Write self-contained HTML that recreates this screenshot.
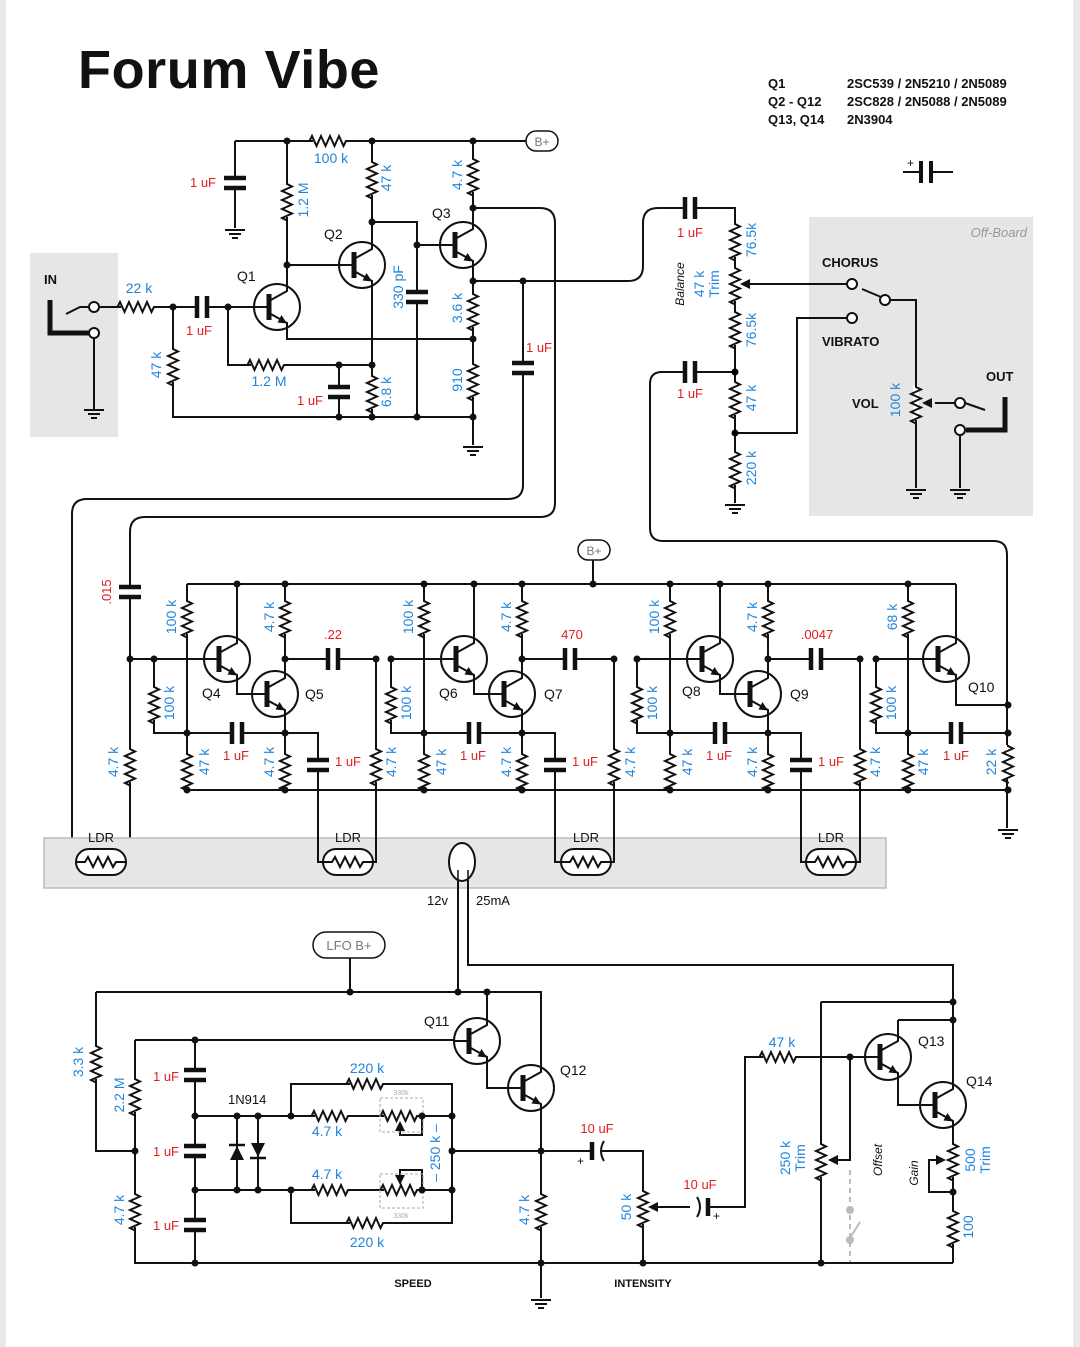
<!DOCTYPE html>
<html><head><meta charset="utf-8"><style>
html,body{margin:0;padding:0;background:#fff}
svg{display:block}
text{font-family:"Liberation Sans",Arial,sans-serif}
.b{fill:#1f84dc;font-size:14px}
.r{fill:#e01e1e;font-size:13px}
.k{fill:#111;font-size:14px}
.w{fill:none;stroke:#111;stroke-width:2}
</style></head><body>
<svg width="1080" height="1347" viewBox="0 0 1080 1347" xmlns="http://www.w3.org/2000/svg">
<defs>
<symbol id="rv" overflow="visible"><rect x="-3" y="-17" width="6" height="34" fill="#fff"/><path d="M0,-17 v1 l5,2.5 l-10,4.5 l10,4.5 l-10,4.5 l10,4.5 l-10,4.5 l10,4.5 l-10,4.5 l5,2.5 v1" fill="none" stroke="#111" stroke-width="2"/></symbol>
<symbol id="cv" overflow="visible"><rect x="-13" y="-5" width="26" height="10" fill="#fff"/><path d="M-11,-5H11M-11,5H11" stroke="#111" stroke-width="4.5"/></symbol>
<symbol id="q" overflow="visible"><circle r="23" fill="#fff" stroke="#111" stroke-width="2"/><path d="M-23,0H-8M-8,-6L10,-16V-24M-8,6L10,16V24" fill="none" stroke="#111" stroke-width="2"/><path d="M-8,-13V13" stroke="#111" stroke-width="5"/><polygon points="10,16.5 0.5,15.5 4.5,8" fill="#111"/></symbol>
<symbol id="gnd" overflow="visible"><path d="M-10,0H10M-6,4H6M-3,8H3" stroke="#111" stroke-width="2"/></symbol>
<symbol id="ldr" overflow="visible"><rect x="-25" y="-13" width="50" height="26" rx="13" fill="#fff" stroke="#111" stroke-width="2"/><path d="M-25,0H-16l3,-5l5,10l5,-10l5,10l5,-10l5,10l3,-5H25" fill="none" stroke="#111" stroke-width="2"/></symbol>
<symbol id="arl" overflow="visible"><polygon points="0,0 10,-5 10,5" fill="#111"/></symbol>
<symbol id="stage" overflow="visible">
<path class="w" d="M187,584V790M237,584V636M285,584V671M154,659H205M154,659V733H285M237,682V694H253M285,718V790M285,733H318V862H323M285,659H376"/>
<use href="#rv" x="187" y="617"/><use href="#rv" x="187" y="770"/><use href="#rv" x="154" y="703"/><use href="#rv" x="285" y="617"/><use href="#rv" x="285" y="770"/>
<use href="#cv" transform="translate(237,733) rotate(90)"/><use href="#cv" transform="translate(333,659) rotate(90)"/><use href="#cv" x="318" y="765"/>
<use href="#q" x="227" y="659"/><use href="#q" x="275" y="694"/>
<g fill="#111"><circle cx="237" cy="584" r="3.5"/><circle cx="285" cy="584" r="3.5"/><circle cx="154" cy="659" r="3.5"/><circle cx="187" cy="733" r="3.5"/><circle cx="285" cy="659" r="3.5"/><circle cx="285" cy="733" r="3.5"/><circle cx="285" cy="790" r="3.5"/><circle cx="187" cy="790" r="3.5"/></g>
<text class="b" transform="translate(176,617) rotate(-90)" text-anchor="middle">100 k</text>
<text class="b" transform="translate(274,617) rotate(-90)" text-anchor="middle">4.7 k</text>
<text class="b" transform="translate(174,703) rotate(-90)" text-anchor="middle">100 k</text>
<text class="b" transform="translate(209,762) rotate(-90)" text-anchor="middle">47 k</text>
<text class="b" transform="translate(274,762) rotate(-90)" text-anchor="middle">4.7 k</text>
<text class="r" x="236" y="760" text-anchor="middle">1 uF</text>
<text class="r" x="348" y="766" text-anchor="middle">1 uF</text>
</symbol>
</defs>
<rect x="0" y="0" width="6" height="1347" fill="#e9e9e9"/><rect x="1073" y="0" width="7" height="1347" fill="#e9e9e9"/>

<text x="78" y="88" style="font-size:54px;font-weight:bold;letter-spacing:0.6px" fill="#111">Forum Vibe</text>
<g class="k" style="font-size:13px;font-weight:bold"><text x="768" y="88">Q1</text><text x="847" y="88">2SC539 / 2N5210 / 2N5089</text>
<text x="768" y="106">Q2 - Q12</text><text x="847" y="106">2SC828 / 2N5088 / 2N5089</text>
<text x="768" y="124">Q13, Q14</text><text x="847" y="124">2N3904</text></g>
<path class="w" d="M903,172H921M931,172H953"/><path d="M921,161V183M931,161V183" stroke="#111" stroke-width="4"/><text x="907" y="167" class="k" style="font-size:12px">+</text>

<!-- input box -->
<rect x="30" y="253" width="88" height="184" fill="#e6e6e6"/>
<text x="44" y="284" class="k" style="font-weight:bold;font-size:13px">IN</text>
<path d="M50,300V333H90" fill="none" stroke="#111" stroke-width="5"/>
<path class="w" d="M66,314L80,307H89M94,338V410"/><use href="#gnd" x="94" y="410"/>

<!-- top wires -->
<path class="w" d="M235,141H527M235,141V228M287,141V284M287,330V339H473M287,265H340M372,141V242M372,288V417M372,222H417V417M417,245H441M473,141V222M473,268V445M473,208H540Q555,208 555,223V503Q555,517 540,517H145Q130,517 130,532V862H126M473,281H628Q643,281 643,266V223Q643,208 658,208H735V503M523,281V485Q523,499 508,499H87Q72,499 72,514V862H76M99,307H255M173,307V417H473M228,307V365H372M339,365V417"/>
<circle cx="94" cy="307" r="5" fill="#fff" stroke="#111" stroke-width="2"/><circle cx="94" cy="333" r="5" fill="#fff" stroke="#111" stroke-width="2"/>
<use href="#gnd" x="235" y="230"/><use href="#gnd" x="473" y="447"/>
<use href="#rv" transform="translate(330,141) rotate(90)"/><use href="#rv" x="287" y="200"/><use href="#rv" x="372" y="178"/><use href="#rv" x="473" y="175"/>
<use href="#rv" transform="translate(138,307) rotate(90)"/><use href="#rv" x="173" y="365"/><use href="#rv" transform="translate(268,365) rotate(90)"/>
<use href="#rv" x="372" y="392"/><use href="#rv" x="473" y="310"/><use href="#rv" x="473" y="380"/>
<use href="#cv" x="235" y="183"/><use href="#cv" transform="translate(202,307) rotate(90)"/><use href="#cv" x="339" y="392"/><use href="#cv" x="417" y="297"/><use href="#cv" x="523" y="368"/>
<use href="#q" x="277" y="307"/><use href="#q" x="362" y="265"/><use href="#q" x="463" y="245"/>
<g fill="#111"><circle cx="287" cy="141" r="3.5"/><circle cx="372" cy="141" r="3.5"/><circle cx="473" cy="141" r="3.5"/><circle cx="287" cy="265" r="3.5"/><circle cx="372" cy="222" r="3.5"/><circle cx="417" cy="245" r="3.5"/><circle cx="473" cy="208" r="3.5"/><circle cx="473" cy="281" r="3.5"/><circle cx="523" cy="281" r="3.5"/><circle cx="473" cy="339" r="3.5"/><circle cx="173" cy="307" r="3.5"/><circle cx="228" cy="307" r="3.5"/><circle cx="372" cy="365" r="3.5"/><circle cx="339" cy="365" r="3.5"/><circle cx="339" cy="417" r="3.5"/><circle cx="372" cy="417" r="3.5"/><circle cx="417" cy="417" r="3.5"/><circle cx="473" cy="417" r="3.5"/></g>
<rect x="526" y="131" width="32" height="20" rx="10" fill="#fff" stroke="#111" stroke-width="1.5"/><text x="542" y="146" text-anchor="middle" style="font-size:12px" fill="#777">B+</text>
<text class="r" x="203" y="187" text-anchor="middle">1 uF</text>
<text class="b" x="331" y="163" text-anchor="middle">100 k</text>
<text class="b" transform="translate(308,200) rotate(-90)" text-anchor="middle">1.2 M</text>
<text class="b" transform="translate(391,178) rotate(-90)" text-anchor="middle">47 k</text>
<text class="b" transform="translate(462,175) rotate(-90)" text-anchor="middle">4.7 k</text>
<text class="k" x="324" y="239">Q2</text><text class="k" x="237" y="281">Q1</text><text class="k" x="432" y="218">Q3</text>
<text class="b" x="139" y="293" text-anchor="middle">22 k</text>
<text class="r" x="199" y="335" text-anchor="middle">1 uF</text>
<text class="b" transform="translate(161,365) rotate(-90)" text-anchor="middle">47 k</text>
<text class="b" x="269" y="386" text-anchor="middle">1.2 M</text>
<text class="r" x="310" y="405" text-anchor="middle">1 uF</text>
<text class="b" transform="translate(391,392) rotate(-90)" text-anchor="middle">6.8 k</text>
<text class="b" transform="translate(403,287) rotate(-90)" text-anchor="middle">330 pF</text>
<text class="b" transform="translate(462,308) rotate(-90)" text-anchor="middle">3.6 k</text>
<text class="b" transform="translate(462,380) rotate(-90)" text-anchor="middle">910</text>
<text class="r" x="539" y="352" text-anchor="middle">1 uF</text>

<!-- off-board right -->
<rect x="809" y="217" width="224" height="299" fill="#e6e6e6"/>
<text x="1027" y="237" text-anchor="end" style="font-size:13px;font-style:italic" fill="#999">Off-Board</text>
<path class="w" d="M735,372H662Q650,372 650,384V528Q650,541 663,541H994Q1007,541 1007,555V828M735,433H797V318H847M745,284H847M890,300H916V488M935,403H956M916,488M960,435V488"/>
<use href="#arl" x="740" y="284"/><use href="#arl" x="922" y="403"/>
<use href="#rv" x="735" y="240"/><use href="#rv" x="735" y="284"/><use href="#rv" x="735" y="328"/><use href="#rv" x="735" y="398"/><use href="#rv" x="735" y="468"/><use href="#rv" x="916" y="403"/>
<use href="#cv" transform="translate(690,208) rotate(90)"/><use href="#cv" transform="translate(690,372) rotate(90)"/>
<use href="#gnd" x="735" y="505"/><use href="#gnd" x="916" y="490"/><use href="#gnd" x="960" y="490"/><use href="#gnd" x="1008" y="830"/>
<circle cx="735" cy="372" r="3.5"/><circle cx="735" cy="433" r="3.5"/>
<circle cx="852" cy="284" r="5" fill="#fff" stroke="#111" stroke-width="2"/><circle cx="852" cy="318" r="5" fill="#fff" stroke="#111" stroke-width="2"/><circle cx="885" cy="300" r="5" fill="#fff" stroke="#111" stroke-width="2"/>
<path class="w" d="M881,297L862,289"/>
<circle cx="960" cy="403" r="5" fill="#fff" stroke="#111" stroke-width="2"/><circle cx="960" cy="430" r="5" fill="#fff" stroke="#111" stroke-width="2"/>
<path class="w" d="M965,403L985,410"/><path d="M1005,397V430H966" fill="none" stroke="#111" stroke-width="5"/>
<text class="k" x="822" y="267" style="font-weight:bold;font-size:13px">CHORUS</text>
<text class="k" x="822" y="346" style="font-weight:bold;font-size:13px">VIBRATO</text>
<text class="k" x="986" y="381" style="font-weight:bold;font-size:13px">OUT</text>
<text class="k" x="852" y="408" style="font-weight:bold;font-size:13px">VOL</text>
<text class="b" transform="translate(900,400) rotate(-90)" text-anchor="middle">100 k</text>
<text class="r" x="690" y="237" text-anchor="middle">1 uF</text><text class="r" x="690" y="398" text-anchor="middle">1 uF</text>
<text class="b" transform="translate(756,240) rotate(-90)" text-anchor="middle">76.5k</text>
<text class="b" transform="translate(756,330) rotate(-90)" text-anchor="middle">76.5k</text>
<text class="b" transform="translate(756,398) rotate(-90)" text-anchor="middle">47 k</text>
<text class="b" transform="translate(756,468) rotate(-90)" text-anchor="middle">220 k</text>
<text class="k" transform="translate(684,284) rotate(-90)" text-anchor="middle" style="font-size:12px;font-style:italic">Balance</text>
<text class="b" transform="translate(704,284) rotate(-90)" text-anchor="middle">47 k</text>
<text class="b" transform="translate(719,284) rotate(-90)" text-anchor="middle">Trim</text>

<!-- LFO phase section -->
<rect x="44" y="838" width="842" height="50" fill="#e6e6e6" stroke="#bbb" stroke-width="1.5"/>
<path class="w" d="M187,584H956M187,790H1008M593,560V584M130,659H154M376,659V862H373M614,659V862H611M860,659V862H856M908,584V790M876,659H924M876,659V733H908H1008M956,584V636M956,682V705H1008"/>
<use href="#stage"/><use href="#stage" x="237"/><use href="#stage" x="483"/>
<use href="#rv" x="130" y="765"/><use href="#cv" x="130" y="592"/><use href="#rv" x="376" y="765"/><use href="#rv" x="614" y="765"/><use href="#rv" x="860" y="765"/>
<use href="#rv" x="908" y="617"/><use href="#rv" x="908" y="770"/><use href="#rv" x="876" y="703"/><use href="#rv" x="1008" y="762"/>
<use href="#cv" transform="translate(956,733) rotate(90)"/>
<use href="#q" x="946" y="659"/>
<g fill="#111"><circle cx="130" cy="659" r="3.5"/><circle cx="376" cy="659" r="3.5"/><circle cx="614" cy="659" r="3.5"/><circle cx="860" cy="659" r="3.5"/><circle cx="876" cy="659" r="3.5"/><circle cx="908" cy="584" r="3.5"/><circle cx="908" cy="733" r="3.5"/><circle cx="908" cy="790" r="3.5"/><circle cx="1008" cy="705" r="3.5"/><circle cx="1008" cy="733" r="3.5"/><circle cx="1008" cy="790" r="3.5"/><circle cx="593" cy="584" r="3.5"/><circle cx="424" cy="584" r="3.5"/><circle cx="670" cy="584" r="3.5"/></g>
<rect x="578" y="540" width="32" height="20" rx="10" fill="#fff" stroke="#111" stroke-width="1.5"/><text x="594" y="555" text-anchor="middle" style="font-size:12px" fill="#777">B+</text>
<text class="r" transform="translate(111,592) rotate(-90)" text-anchor="middle">.015</text>
<text class="b" transform="translate(118,762) rotate(-90)" text-anchor="middle">4.7 k</text>
<text class="b" transform="translate(396,762) rotate(-90)" text-anchor="middle">4.7 k</text>
<text class="b" transform="translate(635,762) rotate(-90)" text-anchor="middle">4.7 k</text>
<text class="b" transform="translate(880,762) rotate(-90)" text-anchor="middle">4.7 k</text>
<text class="b" transform="translate(897,617) rotate(-90)" text-anchor="middle">68 k</text>
<text class="b" transform="translate(896,703) rotate(-90)" text-anchor="middle">100 k</text>
<text class="b" transform="translate(928,762) rotate(-90)" text-anchor="middle">47 k</text>
<text class="b" transform="translate(996,762) rotate(-90)" text-anchor="middle">22 k</text>
<text class="r" x="956" y="760" text-anchor="middle">1 uF</text>
<text class="r" x="333" y="639" text-anchor="middle">.22</text>
<text class="r" x="572" y="639" text-anchor="middle">470</text>
<text class="r" x="817" y="639" text-anchor="middle">.0047</text>
<text class="k" x="202" y="698">Q4</text><text class="k" x="305" y="699">Q5</text>
<text class="k" x="439" y="698">Q6</text><text class="k" x="544" y="699">Q7</text>
<text class="k" x="682" y="696">Q8</text><text class="k" x="790" y="699">Q9</text>
<text class="k" x="968" y="692">Q10</text>
<use href="#ldr" x="101" y="862"/><use href="#ldr" x="348" y="862"/><use href="#ldr" x="586" y="862"/><use href="#ldr" x="831" y="862"/>
<g class="k" style="font-size:13px" text-anchor="middle"><text x="101" y="842">LDR</text><text x="348" y="842">LDR</text><text x="586" y="842">LDR</text><text x="831" y="842">LDR</text></g>
<ellipse cx="462" cy="862" rx="13" ry="19" fill="#fff" stroke="#111" stroke-width="2"/>
<path d="M458,880V870M468,880V870" fill="none" stroke="#111" stroke-width="1.5"/>
<text class="k" x="427" y="905" style="font-size:13px">12v</text><text class="k" x="476" y="905" style="font-size:13px">25mA</text>

<!-- bottom LFO -->
<path class="w" d="M458,880V992M468,880V965H953V1082M953,1128V1263M96,992H541V1064M96,992V1151H135M487,992V1017M135,1040H455M135,1040V1263H953M195,1040V1263M487,1065V1088H509M541,1112V1263M195,1116H452V1190H195M237,1116V1190M258,1116V1190M291,1116V1084H452V1116M291,1190V1223H452V1190M422,1116V1135H400V1124M422,1190V1170H400V1180M452,1151H592M602,1151H643V1263M690,1207H652M706,1207H745V1057H866M821,1002H953M821,1002V1263M850,1057V1160H832M898,1020H953M898,1033V1020M898,1081V1105H921M953,1192H929V1160H940M541,1263V1298M350,958V992"/>
<use href="#rv" x="96" y="1062"/><use href="#rv" x="135" y="1095"/><use href="#rv" x="135" y="1210"/>
<use href="#cv" x="195" y="1075"/><use href="#cv" x="195" y="1151"/><use href="#cv" x="195" y="1225"/>
<polygon points="230,1160 244,1160 237,1146" fill="#111"/><path d="M229,1145H245" stroke="#111" stroke-width="2.5"/>
<polygon points="251,1143 265,1143 258,1157" fill="#111"/><path d="M250,1158H266" stroke="#111" stroke-width="2.5"/>
<use href="#rv" transform="translate(367,1084) rotate(90)"/><use href="#rv" transform="translate(367,1223) rotate(90)"/>
<use href="#rv" transform="translate(332,1116) rotate(90)"/><use href="#rv" transform="translate(332,1190) rotate(90)"/>
<use href="#rv" transform="translate(401,1116) rotate(90)"/><use href="#rv" transform="translate(401,1190) rotate(90)"/>
<polygon points="400,1121 395,1131 405,1131" fill="#111"/><polygon points="400,1185 395,1175 405,1175" fill="#111"/>
<rect x="380" y="1098" width="43" height="34" fill="none" stroke="#aaa" stroke-dasharray="3,2"/><rect x="380" y="1174" width="43" height="34" fill="none" stroke="#aaa" stroke-dasharray="3,2"/>
<text x="401" y="1095" text-anchor="middle" style="font-size:7px" fill="#aaa">330k</text><text x="401" y="1218" text-anchor="middle" style="font-size:7px" fill="#aaa">330k</text>
<use href="#rv" x="541" y="1210"/><use href="#rv" x="643" y="1207"/><use href="#arl" x="648" y="1207"/>
<path d="M592,1142V1160" stroke="#111" stroke-width="4.5"/><path d="M604,1141q-6,10 0,20" fill="none" stroke="#111" stroke-width="2"/>
<path d="M708,1198V1216" stroke="#111" stroke-width="4.5"/><path d="M697,1197q6,10 0,20" fill="none" stroke="#111" stroke-width="2"/>
<use href="#rv" transform="translate(780,1057) rotate(90)"/><use href="#rv" x="821" y="1160"/><use href="#arl" x="828" y="1160"/>
<use href="#rv" x="953" y="1160"/><use href="#rv" x="953" y="1227"/><use href="#arl" transform="translate(946,1160) rotate(180)"/>
<path d="M850,1170V1262" stroke="#bbb" stroke-width="2" stroke-dasharray="5,4"/>
<circle cx="850" cy="1210" r="4" fill="#bbb"/><circle cx="850" cy="1240" r="4" fill="#bbb"/><path d="M850,1238L860,1222" stroke="#bbb" stroke-width="2"/>
<use href="#q" x="477" y="1041"/><use href="#q" x="531" y="1088"/><use href="#q" x="888" y="1057"/><use href="#q" x="943" y="1105"/>
<use href="#gnd" x="541" y="1300"/>
<g fill="#111"><circle cx="350" cy="992" r="3.5"/><circle cx="458" cy="992" r="3.5"/><circle cx="487" cy="992" r="3.5"/><circle cx="195" cy="1040" r="3.5"/><circle cx="135" cy="1151" r="3.5"/><circle cx="195" cy="1116" r="3.5"/><circle cx="195" cy="1190" r="3.5"/><circle cx="237" cy="1116" r="3.5"/><circle cx="258" cy="1116" r="3.5"/><circle cx="237" cy="1190" r="3.5"/><circle cx="258" cy="1190" r="3.5"/><circle cx="291" cy="1116" r="3.5"/><circle cx="291" cy="1190" r="3.5"/><circle cx="422" cy="1116" r="3.5"/><circle cx="452" cy="1116" r="3.5"/><circle cx="422" cy="1190" r="3.5"/><circle cx="452" cy="1190" r="3.5"/><circle cx="452" cy="1151" r="3.5"/><circle cx="541" cy="1151" r="3.5"/><circle cx="541" cy="1263" r="3.5"/><circle cx="195" cy="1263" r="3.5"/><circle cx="643" cy="1263" r="3.5"/><circle cx="821" cy="1263" r="3.5"/><circle cx="850" cy="1057" r="3.5"/><circle cx="953" cy="1002" r="3.5"/><circle cx="953" cy="1020" r="3.5"/><circle cx="953" cy="1192" r="3.5"/></g>
<rect x="313" y="932" width="72" height="26" rx="13" fill="#fff" stroke="#111" stroke-width="1.5"/><text x="349" y="950" text-anchor="middle" style="font-size:13px" fill="#777">LFO  B+</text>
<text class="k" x="424" y="1026">Q11</text><text class="k" x="560" y="1075">Q12</text><text class="k" x="918" y="1046">Q13</text><text class="k" x="966" y="1086">Q14</text>
<text class="k" x="228" y="1104" style="font-size:13px">1N914</text>
<text class="b" x="367" y="1073" text-anchor="middle">220 k</text><text class="b" x="327" y="1136" text-anchor="middle">4.7 k</text><text class="b" x="327" y="1179" text-anchor="middle">4.7 k</text><text class="b" x="367" y="1247" text-anchor="middle">220 k</text>
<text class="b" transform="translate(440,1153) rotate(-90)" text-anchor="middle">– 250 k –</text>
<text class="b" transform="translate(83,1062) rotate(-90)" text-anchor="middle">3.3 k</text>
<text class="b" transform="translate(124,1095) rotate(-90)" text-anchor="middle">2.2 M</text>
<text class="b" transform="translate(124,1210) rotate(-90)" text-anchor="middle">4.7 k</text>
<text class="r" x="166" y="1081" text-anchor="middle">1 uF</text><text class="r" x="166" y="1156" text-anchor="middle">1 uF</text><text class="r" x="166" y="1230" text-anchor="middle">1 uF</text>
<text class="b" transform="translate(529,1210) rotate(-90)" text-anchor="middle">4.7 k</text>
<text class="r" x="597" y="1133" text-anchor="middle">10 uF</text><text class="k" x="577" y="1165" style="font-size:12px">+</text>
<text class="b" transform="translate(631,1207) rotate(-90)" text-anchor="middle">50 k</text>
<text class="r" x="700" y="1189" text-anchor="middle">10 uF</text><text class="k" x="713" y="1220" style="font-size:12px">+</text>
<text class="b" x="782" y="1047" text-anchor="middle">47 k</text>
<text class="b" transform="translate(790,1158) rotate(-90)" text-anchor="middle">250 k</text>
<text class="b" transform="translate(805,1158) rotate(-90)" text-anchor="middle">Trim</text>
<text class="k" transform="translate(882,1160) rotate(-90)" text-anchor="middle" style="font-size:12px;font-style:italic">Offset</text>
<text class="k" transform="translate(918,1173) rotate(-90)" text-anchor="middle" style="font-size:12px;font-style:italic">Gain</text>
<text class="b" transform="translate(975,1160) rotate(-90)" text-anchor="middle">500</text>
<text class="b" transform="translate(990,1160) rotate(-90)" text-anchor="middle">Trim</text>
<text class="b" transform="translate(973,1227) rotate(-90)" text-anchor="middle">100</text>
<text class="k" x="413" y="1287" text-anchor="middle" style="font-size:11px;font-weight:bold">SPEED</text>
<text class="k" x="643" y="1287" text-anchor="middle" style="font-size:11px;font-weight:bold">INTENSITY</text>
</svg>
</body></html>
